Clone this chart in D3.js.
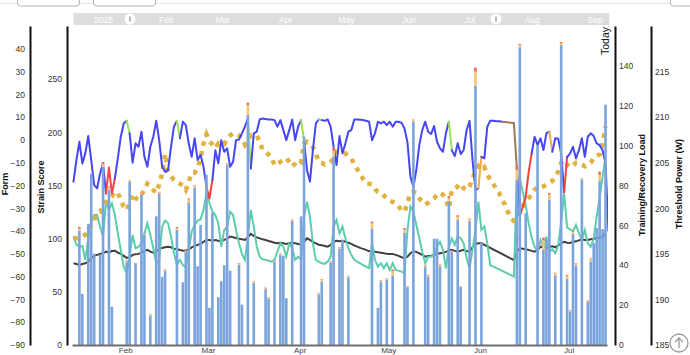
<!DOCTYPE html>
<html><head><meta charset="utf-8">
<script src="https://cdn.jsdelivr.net/npm/d3@7"></script>
<style>
body{margin:0;background:#fff}
svg{display:block;font-family:"Liberation Sans",Arial,sans-serif}
</style>
</head><body>
<svg id="c" width="690" height="355"></svg>
<script>
// ---------- DATA ----------
const startDate = new Date(2025, 0, 14);
const endDate = new Date(2025, 6, 14);
const navStart = new Date(2024, 11, 17);
const navEnd = new Date(2025, 8, 8);
const navLabels = ["2025","Feb","Mar","Apr","May","Jun","Jul","Aug","Sep"];
const navLabelDates = [new Date(2025,0,1),new Date(2025,1,1),new Date(2025,2,1),new Date(2025,3,1),new Date(2025,4,1),new Date(2025,5,1),new Date(2025,6,1),new Date(2025,7,1),new Date(2025,8,1)];
const monthLabels = ["Feb","Mar","Apr","May","Jun","Jul"];
const monthDates = [new Date(2025,1,1),new Date(2025,2,1),new Date(2025,3,1),new Date(2025,4,1),new Date(2025,5,1),new Date(2025,6,1)];

const formTicks = [-90,-80,-70,-60,-50,-40,-30,-20,-10,0,10,20,30,40];
const strainTicks = [0,50,100,150,200,250];
const loadTicks = [0,20,40,60,80,100,120,140];
const powerTicks = [185,190,195,200,205,210,215];

// Strain score bars: day offset from startDate, total, high-intensity part, peak part
const barDays  = [2,3,5,6,7,9,10,12,13,18,19,21,23,24,26,28,29,30,31,35,37,38,39,41,42,43,45,46,47,49,50,51,52,53,56,57,59,61,65,66,68,70,71,72,74,77,78,83,84,87,88,90,91,93,101,103,104,106,108,112,113,115,119,120,122,123,124,127,128,130,131,134,136,138,150,151,153,157,159,160,161,163,165,167,168,169,170,172,174,175,176,177,178,179,180];
const barTotal = [111,48,114,161,86,85,172,149,36,80,155,77,143,105,29,121,144,64,71,111,59,89,138,150,74,113,160,35,124,45,60,75,171,70,77,38,228,60,54,45,80,86,84,44,118,121,196,49,62,79,186,92,99,65,116,35,61,63,71,110,55,212,75,66,100,100,76,140,89,122,55,119,261,96,168,283,124,188,101,99,143,68,285,66,33,107,77,157,42,82,96,110,163,109,226];
const barHigh  = [2,0,0,0,0,0,3.5,2,0,1,1,0,1,1,1,0,1.5,0,1,1.5,0,1,3,1.5,0,0,0,0,0,0,0,0,1,0,1,0,9,1,1,1,1,1,0,0,1,0,0,1,2,1,6,1,0,1,5,0,1,1,4,3,0,1.5,1,1.5,0,0,1.5,3,1,3,0,2,13,0,10,2,0,0,9,0,5,2,2,3,1,2,2,1,1,3,0,0,6,0,0];
const barPeak  = [1.5,0,0,0,0,0,1.5,1,0,0.5,0.5,0,0.5,0.5,0.5,0,0.5,0,0.5,1,0,0.5,1,0.5,0,0,0,0,0,0,0,0,0.5,0,0.5,0,2.5,0.5,0.5,0.5,0.5,0.5,0,0,0.5,0,0,0.5,0.5,0.5,3,0.5,0,0.5,1.5,0,0.5,0.5,1.5,1.5,1,0.5,0.5,0.5,0,0,0.5,2,0.5,1.5,0,0.5,4,0,3,1,0,0,2.5,0,1.5,0.5,1,1,0.5,0.5,0.5,0.5,0.5,0.5,0,0,3,0,0];

// Daily series, index = day offset from startDate (null = no value)
const formValues = [-18.3,-8.8,-0.8,-10.3,-5.9,1.7,-8.8,-19.8,-21.3,-14.7,-10.3,-23.5,-12.1,-23.5,-16.9,-8.1,1.4,7.2,8.4,2.9,
-10,-1.5,-3,3.6,-7.4,-11.8,-3,1.4,8.4,-0.1,-11.8,-14,-13.2,-3,5.8,8.4,0.7,8,6.5,-1.5,
-7.4,0.7,-8.8,-6.6,-11.8,-20.5,-25.7,-17.6,-4.5,-10.3,-0.1,-5.2,-3.7,-11.8,-9.6,-0.1,0.2,2.9,5.8,9.4,
-12.5,2.9,3.6,9,9.4,9.2,9,9,8.7,5.8,8.7,4.3,-0.1,4.3,9,-0.1,5.8,8.7,-0.1,-13.2,
-18.3,-4.5,7.2,9,8.7,8.4,9,5.8,-3,-11,1.7,-5.9,-1.5,3.6,4.3,9,9,8.9,8.7,8.4,
8,-0.1,2.9,8,7.2,8,6.5,8,5.8,8,8,7.5,5,-1.2,-16.2,-20.5,-13.2,-2.3,4.3,8,
3.6,2.6,6.1,-0.8,-3.7,-5.2,2.9,8,-4.5,-7.1,-1.5,-6.2,-4.5,4.3,8.4,-8.8,-22,-21.3,-7.4,-8.1,
5.8,8.4,8.4,8.2,8.2,8,null,null,null,7.4,-12.3,-33,-29.5,-25,-14,-6,1.4,-2.2,0.7,-4.4,
2.9,3.6,-5.2,0.7,0.5,-6,-23,-7.5,-6,-3,-8.1,-4.5,0.7,-7.4,1.4,2.9,1.7,-1.5,-2.3,-4.5,
-10.3,-40];
const formRedZones = [[11,14],[45,47],[151,155],[166,167]];
const formGreenZones = [[18,19],[35,36],[59,60],[77,78],[83,84],[127,128]];
const formOrangeZones = [[137,138],[161,162]];
const formBrownZones = [[145,150]];

const powerValues = [196.7,196.7,196.8,196.9,197.1,197.4,198.2,198.7,199.5,199.6,200.2,200.7,201.1,201.3,201.8,201.7,200.9,200.2,199.8,200.6,
201.6,201.1,201,201.5,202,202.7,202.4,202,201.7,202.6,203.8,206,204,203.5,203.1,202.9,202.7,202.5,202,202.9,
203.9,203.9,204.4,205.5,207.1,208.1,207.3,207,206.6,207.1,206.9,207,207.7,208,208.2,208.2,208,207.7,207,207.5,
208,208.1,208,207.3,206.4,206.2,205.9,205.6,204.7,204.9,205.1,205.3,205.5,205.1,204.6,204.9,205.3,205.1,207.1,207.3,
207.1,206.7,206,205.1,205,204.8,204.9,205.1,205.5,206.2,206.2,206,206,205.7,205.5,204.8,204.3,203.7,203.2,202.7,
202.7,202.6,202.1,201.8,201.7,201.4,201.1,200.8,200.7,200.6,200.2,199.8,199.6,200.6,201.7,201.8,201.7,201.1,200.7,200.4,
200.6,200.9,201.1,201.5,201.7,201.5,200.9,200,202,202.1,202.4,202.7,202.2,202,202.4,203.3,204,204.6,204.2,204.5,
203.7,203.1,202.7,202.1,201.7,200.9,200.4,199.6,198.9,198.6,198.8,199.5,200.2,200.8,201.1,201.5,202,202.3,202.2,202.4,
202.6,202.8,203,203.5,204,205,205.3,204.8,204.5,204.7,205,205,204.8,204.6,204.8,205,205.5,205.8,205.9,207.1,
209];

const recoveryValues = [54.4,50.2,49.3,49.7,42.7,53.5,61,65.2,65.2,59.4,54.4,71.9,67.7,71.1,65.2,56,47.7,39.3,36,44.3,
55.2,48.5,49.3,51,56,61,55.2,48.5,41,42.7,59.4,62.4,61,54.4,46,40.1,42.7,40.1,39,47.7,
56.9,60.2,62.4,63,67.7,76.1,71.1,66.9,65.2,61,49.3,57.7,59.4,66.9,65.2,57.7,51,45.7,42.7,54.4,
67.7,59.4,49.3,44.3,43,42.7,42.3,41.8,42.7,46.8,51,49.3,44.3,51,48.5,42.7,44.3,42.7,64.4,71.9,
64.4,51,42.7,41.8,41,40.7,41.8,44.3,59.4,62.7,56,59.4,53.5,48.5,45.2,42.7,41.8,41,40.1,39.3,
38.5,51,42.7,39.3,41,38.5,41,37.6,41,37.6,37.3,36.8,36,57.7,69.4,66.9,60.2,53.5,46.8,41,
44.3,44.3,45.7,49.3,51.8,47.7,38.5,49.3,53.5,50.2,54.4,53.5,51,43.5,38.5,47.7,57.7,71.9,57.7,59.4,
51,40.1,null,null,null,null,null,null,null,34.3,83,83.6,76.9,70.2,61,54,49.3,46.8,52.7,49,
54.3,46.8,48,46,50,62,76,59,58,57,60.2,56,52.7,57.7,51,49.3,53.5,64.4,73.6,84.4,
94.5];

const trainingValues = [41,40.6,40.1,40.6,41,41.8,43.5,44.7,45.2,45.7,46,46.8,46.3,47.2,47.3,46.3,45.7,44.7,43.7,44,
45.2,45.5,45.7,46.3,47.2,47.7,46.8,46.3,47.2,48,48.7,49,49.3,49,48.3,48,47.7,47.3,47.3,48,
49,49.7,50.2,50.7,51.7,52.7,52.7,52.3,52.7,52.3,52,52.7,53.3,54.4,54,53.7,53.3,53,52.7,54,
55.7,54.7,54,53.5,53,52.7,52.2,51.8,51.3,51,51.3,51,50.7,51,51.3,51,50.7,50.2,51.8,53.5,
52.7,51.7,51,50.3,50,49.7,49.3,50.2,51.8,52.3,52,52.3,51.8,51.3,50.7,50,49.3,48.7,48.2,47.7,
47,47.3,46.8,46.5,46.3,46,45.8,45.7,45.7,45.2,44.7,44,43.5,44.3,46,47,46.7,46,45.2,44.3,
44.7,44.8,45.2,45.7,46,46.3,46.7,47.3,47.7,47.2,46.8,47.3,47.7,47.2,46.8,49,50.7,51,51,null,
null,null,null,null,null,null,null,null,null,42.6,46.8,48.5,48.3,48,47.7,47.2,46.8,47.5,49.3,49,
48.8,49.3,49.5,49,50,51,51.8,51.3,51.2,51.7,52,52.5,53,52.7,52.7,53,53.3,53.7,53.8,54.2,
55.9];

// ---------- LAYOUT ----------
const W = 690, H = 355;
const plot = {left: 72, right: 607, top: 26, bottom: 345};
const svg = d3.select("#c");
svg.append("rect").attr("width", W).attr("height", H).attr("fill", "#fff");

const dayDate = d => new Date(2025, 0, 14 + d, 12);
const x = d3.scaleTime().domain([startDate, endDate]).range([plot.left, plot.right]);
const yForm = d3.scaleLinear().domain([-90, 50]).range([plot.bottom, plot.top]);
const yStrain = d3.scaleLinear().domain([0, 300]).range([plot.bottom, plot.top]);
const yLoad = d3.scaleLinear().domain([0, 160]).range([plot.bottom, plot.top]);
const yPower = d3.scaleLinear().domain([185, 220]).range([plot.bottom, plot.top]);

// ---------- top decorations ----------
svg.append("line").attr("x1", 0).attr("x2", W).attr("y1", 3.5).attr("y2", 3.5).attr("stroke", "#e6e6e6");
[[17, 79], [93, 155], [670, 700]].forEach(b => {
  svg.append("rect").attr("x", b[0] + 0.5).attr("y", -8).attr("width", b[1] - b[0]).attr("height", 14)
    .attr("rx", 3).attr("fill", "#fff").attr("stroke", "#b5b5b5");
});

// navigator
const nav = d3.scaleTime().domain([startDate, endDate]).range([130, 496]);
svg.append("rect").attr("x", nav(navStart)).attr("y", 13).attr("width", nav(navEnd) - nav(navStart)).attr("height", 12)
  .attr("fill", "#dddddd");
svg.append("g").selectAll("text").data(navLabels).join("text")
  .attr("x", (d, i) => nav(navLabelDates[i])).attr("y", 22.5)
  .attr("text-anchor", "middle").attr("font-size", 8.5).attr("fill", "#fff").text(d => d);
[startDate, endDate].forEach(d => {
  const cx = nav(d);
  svg.append("circle").attr("cx", cx).attr("cy", 19).attr("r", 5.5).attr("fill", "#fff");
  svg.append("line").attr("x1", cx).attr("x2", cx).attr("y1", 16.5).attr("y2", 21.5).attr("stroke", "#888").attr("stroke-width", 1.2);
});

// ---------- clip ----------
svg.append("defs").append("clipPath").attr("id", "clip").append("rect")
  .attr("x", plot.left).attr("y", plot.top).attr("width", plot.right + 1 - plot.left).attr("height", plot.bottom - plot.top);
const g = svg.append("g").attr("clip-path", "url(#clip)");

function pts(values) {
  const out = [];
  values.forEach((v, i) => { if (v !== null && v !== undefined) out.push([i, v]); });
  return out;
}

// Training load (black)
g.append("path").datum(pts(trainingValues))
  .attr("d", d3.line().x(d => x(dayDate(d[0]))).y(d => yLoad(d[1])))
  .attr("fill", "none").attr("stroke", "#404040").attr("stroke-width", 2);

// Recovery load (teal)
g.append("path").datum(pts(recoveryValues))
  .attr("d", d3.line().x(d => x(dayDate(d[0]))).y(d => yLoad(d[1])))
  .attr("fill", "none").attr("stroke", "#5ccdae").attr("stroke-width", 2);

// Threshold power (yellow dotted)
g.append("path").datum(pts(powerValues))
  .attr("d", d3.line().x(d => x(dayDate(d[0]))).y(d => yPower(d[1])))
  .attr("fill", "none").attr("stroke", "#e0b23e").attr("stroke-width", 4.5)
  .attr("stroke-dasharray", "4.5,5.5");

// Form (zoned line)
const formPts = pts(formValues);
function zoneColor(a, b) {
  const inZ = zs => zs.some(z => a >= z[0] && b <= z[1]);
  if (inZ(formRedZones)) return "#f0433f";
  if (inZ(formGreenZones)) return "#9be15d";
  if (inZ(formOrangeZones)) return "#f4a94a";
  if (inZ(formBrownZones)) return "#a07856";
  return "#4646f2";
}
const runs = [];
for (let i = 0; i < formPts.length - 1; i++) {
  const c = zoneColor(formPts[i][0], formPts[i + 1][0]);
  if (runs.length && runs[runs.length - 1].c === c) runs[runs.length - 1].p.push(formPts[i + 1]);
  else runs.push({c, p: [formPts[i], formPts[i + 1]]});
}
const formLine = d3.line().x(d => x(dayDate(d[0]))).y(d => yForm(d[1]));
g.append("g").selectAll("path").data(runs).join("path")
  .attr("d", r => formLine(r.p)).attr("fill", "none").attr("stroke", r => r.c)
  .attr("stroke-width", 2).attr("stroke-linejoin", "round").attr("stroke-linecap", "round");

// Strain bars (stacked)
const bw = (x(dayDate(1)) - x(dayDate(0))) * 0.88;
const bars = barDays.map((d, i) => ({d, total: barTotal[i], high: barHigh[i], peak: barPeak[i]}));
const bg = g.append("g");
bars.forEach(b => {
  const cx = x(dayDate(b.d));
  const low = b.total - b.high - b.peak;
  bg.append("rect").attr("x", cx - bw / 2).attr("width", bw)
    .attr("y", yStrain(low)).attr("height", yStrain(0) - yStrain(low)).attr("fill", "#7ba4dc");
  if (b.high > 0) bg.append("rect").attr("x", cx - bw / 2).attr("width", bw)
    .attr("y", yStrain(low + b.high)).attr("height", yStrain(low) - yStrain(low + b.high)).attr("fill", "#f7c375");
  if (b.peak > 0) bg.append("rect").attr("x", cx - bw / 2).attr("width", bw)
    .attr("y", yStrain(b.total)).attr("height", yStrain(low + b.high) - yStrain(b.total)).attr("fill", "#f26a5f");
});

// ---------- axes ----------
function styleAxis(sel, fs) {
  sel.select(".domain").attr("stroke", "#111").attr("stroke-width", 2);
  sel.selectAll("text").attr("font-size", fs).attr("fill", "#333").attr("font-family", "Liberation Sans, Arial, sans-serif");
}
const ax1 = svg.append("g").attr("transform", `translate(30,0)`)
  .call(d3.axisLeft(yForm).tickValues(formTicks).tickSize(0).tickPadding(5).tickFormat(d3.format("d")));
styleAxis(ax1, 8.5);
const ax2 = svg.append("g").attr("transform", `translate(67,0)`)
  .call(d3.axisLeft(yStrain).tickValues(strainTicks).tickSize(0).tickPadding(5));
styleAxis(ax2, 8.5);
const ax3 = svg.append("g").attr("transform", `translate(615,0)`)
  .call(d3.axisRight(yLoad).tickValues(loadTicks).tickSize(0).tickPadding(4));
styleAxis(ax3, 8.5);
const ax4 = svg.append("g").attr("transform", `translate(651,0)`)
  .call(d3.axisRight(yPower).tickValues(powerTicks).tickSize(0).tickPadding(4));
styleAxis(ax4, 8.5);

const axX = svg.append("g").attr("transform", `translate(0,${plot.bottom})`)
  .call(d3.axisBottom(x).tickValues(monthDates).tickSize(0).tickPadding(2.5)
    .tickFormat((d, i) => monthLabels[i]));
axX.select(".domain").attr("stroke", "#6e6e6e").attr("stroke-width", 2);
axX.selectAll("text").attr("font-size", 8).attr("fill", "#444");

// axis titles
function vtitle(tx, ty, txt) {
  svg.append("text").attr("transform", `translate(${tx},${ty}) rotate(-90)`)
    .attr("text-anchor", "middle").attr("font-size", 9).attr("font-weight", "bold").attr("fill", "#111").text(txt);
}
vtitle(8, 184, "Form");
vtitle(43.5, 187, "Strain Score");
vtitle(645, 185, "Training/Recovery Load");
vtitle(682, 184, "Threshold Power (W)");

// Today label
svg.append("text").attr("transform", `translate(609,55) rotate(-90)`)
  .attr("font-size", 10.5).attr("fill", "#111").text("Today");

// back-to-top button
const bx = 679, by = 343;
svg.append("circle").attr("cx", bx).attr("cy", by).attr("r", 9).attr("fill", "#fff").attr("stroke", "#9a9a9a").attr("stroke-width", 1.3);
svg.append("path").attr("d", `M${bx},${by + 5}V${by - 5}M${bx - 4},${by - 1}L${bx},${by - 5}L${bx + 4},${by - 1}`)
  .attr("fill", "none").attr("stroke", "#9a9a9a").attr("stroke-width", 1.3);
</script>
</body></html>
